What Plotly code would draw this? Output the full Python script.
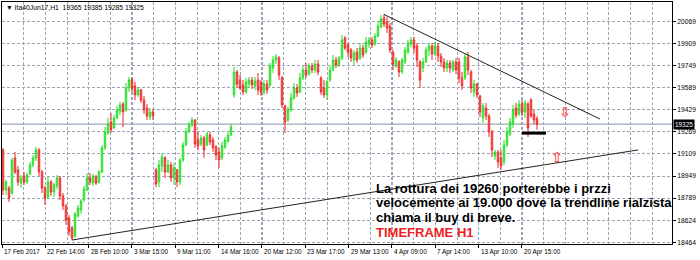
import plotly.graph_objects as go

# ---- data (H1 candles, bar index order) ----
opens = [19138,18848,18862,18826,19080,18993,18898,18949,18906,18964,19029,19080,19138,18978,18862,18797,18906,18833,18877,18935,
         18804,18732,18645,18572,18514,18659,18703,18775,18848,18935,18898,18942,18906,18978,19152,19261,19341,19297,19370,19420,
         19471,19428,19587,19645,19602,19537,19573,19500,19442,19377,19413,18993,18906,19022,19080,18978,19029,18935,18993,18906,
         19065,19174,19268,19319,19355,19210,19181,19225,19174,19246,19210,19159,19123,19080,19159,19203,19246,19537,19703,19645,
         19609,19558,19616,19645,19602,19645,19631,19558,19616,19609,19732,19790,19805,19660,19457,19355,19428,19515,19587,19558,
         19660,19718,19689,19747,19718,19761,19660,19587,19537,19645,19718,19790,19754,19805,19950,19899,19862,19790,19848,19805,
         19877,19848,19906,19935,19906,19964,20029,20095,20066,20037,19848,19747,19776,19703,19776,19848,19906,19935,19892,19776,
         19732,19776,19862,19892,19834,19892,19819,19776,19732,19768,19718,19776,19776,19660,19660,19812,19703,19558,19616,19529,
         19370,19442,19384,19268,19094,19123,19080,19051,19174,19254,19326,19442,19399,19471,19413,19471,19500,19399,19365]
highs = [19152,18920,18877,19080,19123,19022,18956,18978,18971,19051,19101,19159,19152,18993,18877,18942,18920,18898,18956,18949,
         18826,18746,18666,18587,18688,18739,18782,18877,18971,18971,18964,18956,18993,19174,19304,19370,19406,19391,19457,19486,
         19486,19623,19667,19660,19631,19594,19580,19529,19471,19442,19435,19007,19065,19116,19094,19065,19051,19043,19000,19080,
         19196,19297,19341,19377,19362,19268,19246,19239,19268,19268,19232,19174,19152,19196,19232,19268,19326,19739,19718,19681,
         19645,19660,19667,19667,19667,19696,19645,19645,19645,19768,19819,19834,19819,19674,19464,19449,19551,19623,19616,19696,
         19747,19768,19768,19768,19790,19790,19674,19645,19645,19747,19826,19812,19819,19971,19964,19913,19877,19862,19877,19913,
         19899,19957,19957,19957,19986,20066,20116,20124,20102,20058,19862,19812,19790,19805,19884,19935,19957,19957,19913,19790,
         19805,19884,19913,19913,19921,19913,19841,19805,19790,19790,19790,19805,19805,19703,19841,19848,19718,19645,19623,19537,
         19478,19478,19399,19283,19138,19138,19138,19210,19304,19370,19464,19478,19500,19500,19500,19486,19515,19428,19385]
lows = [18811,18811,18761,18811,18964,18877,18862,18884,18891,18956,19014,19058,18949,18826,18739,18782,18804,18797,18855,18775,
        18703,18594,18514,18485,18500,18645,18674,18761,18840,18884,18877,18884,18891,18971,19138,19246,19261,19290,19362,19391,
        19304,19413,19558,19558,19500,19522,19478,19399,19355,19355,19355,18869,18869,18978,18935,18971,18906,18884,18869,18884,
        19051,19167,19261,19304,19152,19138,19167,19080,19167,19174,19123,19065,19007,19065,19145,19188,19239,19515,19587,19573,
        19537,19544,19587,19580,19573,19537,19529,19537,19544,19594,19696,19761,19645,19442,19261,19341,19413,19500,19522,19551,
        19645,19660,19674,19696,19696,19681,19537,19515,19500,19631,19710,19732,19739,19790,19862,19812,19776,19754,19768,19790,
        19805,19834,19877,19877,19892,19957,20022,20029,19986,19841,19718,19732,19667,19689,19761,19834,19884,19841,19739,19587,
        19703,19768,19819,19790,19819,19776,19739,19703,19703,19696,19703,19689,19623,19573,19645,19681,19551,19522,19515,19377,
        19333,19355,19232,19087,19065,19007,18993,19029,19159,19239,19297,19370,19384,19384,19370,19232,19370,19326,19285]
closes = [18848,18906,18790,19065,18978,18906,18935,18906,18956,19029,19080,19138,18978,18862,18790,18906,18833,18884,18935,18804,
          18732,18630,18543,18500,18674,18717,18768,18855,18935,18906,18949,18898,18978,19152,19268,19326,19283,19370,19428,19464,
          19413,19587,19645,19587,19537,19573,19500,19428,19384,19413,19384,18891,19029,19087,18978,19029,18935,19007,18906,19065,
          19174,19268,19319,19355,19181,19167,19225,19138,19254,19196,19152,19101,19065,19167,19210,19246,19304,19703,19616,19587,
          19558,19631,19645,19609,19638,19573,19558,19616,19573,19747,19790,19812,19681,19464,19341,19428,19515,19587,19551,19660,
          19718,19681,19747,19718,19761,19703,19558,19537,19631,19718,19790,19754,19805,19935,19877,19848,19805,19841,19790,19877,
          19826,19921,19935,19899,19964,20037,20087,20051,20022,19862,19761,19790,19703,19790,19862,19913,19935,19877,19790,19645,
          19776,19862,19892,19834,19892,19819,19776,19732,19768,19732,19776,19718,19660,19602,19812,19718,19587,19616,19537,19413,
          19457,19384,19268,19138,19123,19051,19022,19174,19268,19341,19428,19391,19471,19413,19478,19297,19384,19355,19325]

symbol_label = "Ita40Jun17,H1"
current_price = 19325
support_level = 19260
support_bars = [173, 181]
lower_trend_bars = [23, 211.7]
lower_trend_prices = [18485, 19138]
upper_trend_bars = [127, 199]
upper_trend_prices = [20120, 19362]
arrow_down = (187.3, 19413)
arrow_up = (184.7, 19087)

y_tick_vals = [20069, 19909, 19749, 19589, 19429, 19269, 19109, 18949, 18789, 18624, 18464]
x_tick_labels = ["17 Feb 2017", "22 Feb 14:00", "28 Feb 10:00", "3 Mar 15:00", "9 Mar 11:00", "14 Mar 16:00",
                 "20 Mar 12:00", "23 Mar 17:00", "29 Mar 13:00", "4 Apr 09:00", "7 Apr 14:00", "13 Apr 10:00",
                 "20 Apr 15:00"]
note_lines = ["La rottura dei 19260 porterebbe i przzi",
              "velocemente ai 19.000 dove la trendline rialzista",
              "chiama il buy di breve."]
note_red = "TIMEFRAME H1"

# ---- geometry (pixels) ----
W, H = 700, 260
ML, MR, MT, MB = 2, 28, 2, 16
PW, PH = W - ML - MR, H - MT - MB
DX = 3.0           # px per bar
X0 = 3.0           # px of bar 0

def bar_of_px(px):
    return (px - X0) / DX

def paper_y(py):
    return (H - MB - py) / PH

xrange_ = [bar_of_px(ML), bar_of_px(ML + PW)]
yrange_ = [18456, 20210.5]

bars = list(range(len(opens)))
major_x = [bar_of_px(ML + 43.33 * k) for k in range(len(x_tick_labels))]
minor_x = [bar_of_px(ML + 21.667 * k) for k in range(32)]

GRID = "#9aa4b4"
FONT = "Liberation Sans, Arial, sans-serif"
SMALL = 6.4

fig = go.Figure()
fig.add_trace(go.Candlestick(
    x=bars, open=opens, high=highs, low=lows, close=closes,
    increasing=dict(line=dict(color="#22dd22", width=1), fillcolor="#9af49a"),
    decreasing=dict(line=dict(color="#ee2424", width=1), fillcolor="#f7a3a3"),
    whiskerwidth=0, showlegend=False, hoverinfo="skip"))

fig.add_trace(go.Scatter(x=lower_trend_bars, y=lower_trend_prices, mode="lines",
                         line=dict(color="#222222", width=1), showlegend=False, hoverinfo="skip"))
fig.add_trace(go.Scatter(x=upper_trend_bars, y=upper_trend_prices, mode="lines",
                         line=dict(color="#222222", width=1), showlegend=False, hoverinfo="skip"))
fig.add_trace(go.Scatter(x=support_bars, y=[support_level, support_level], mode="lines",
                         line=dict(color="#000000", width=3), showlegend=False, hoverinfo="skip"))

fig.add_shape(type="line", xref="paper", x0=0, x1=1, yref="y", y0=current_price, y1=current_price,
              line=dict(color="#8797a8", width=1), layer="below")

ann = []
for xv, lab in zip(major_x, x_tick_labels):
    ann.append(dict(x=xv, xref="x", y=paper_y(251.5), yref="paper", text=lab, showarrow=False,
                    xanchor="left", yanchor="middle", xshift=0, font=dict(size=SMALL, color="#000", family=FONT)))
ann.append(dict(x=1, xref="paper", y=current_price, yref="y", text=str(current_price), showarrow=False,
                xanchor="left", yanchor="middle", xshift=1, bgcolor="#000000", borderpad=1,
                font=dict(size=SMALL, color="#ffffff", family=FONT)))
header = "▼ " + symbol_label + "\u00a0\u00a0" + " ".join(str(v) for v in (opens[-1], highs[-1], lows[-1], closes[-1]))
ann.append(dict(x=(4 - ML) / PW, xref="paper", y=paper_y(7.5), yref="paper", text=header, showarrow=False,
                xanchor="left", yanchor="middle", font=dict(size=6.8, color="#000", family=FONT)))
for k, line in enumerate(note_lines):
    ann.append(dict(x=(374 - ML) / PW, xref="paper", y=paper_y(188 + 14.8 * k), yref="paper",
                    text="<b>" + line + "</b>", showarrow=False, xanchor="left", yanchor="middle",
                    font=dict(size=13, color="#000000", family=FONT)))
ann.append(dict(x=(374 - ML) / PW, xref="paper", y=paper_y(188 + 14.8 * 3), yref="paper",
                text="<b>" + note_red + "</b>", showarrow=False, xanchor="left", yanchor="middle",
                font=dict(size=13, color="#ee1c25", family=FONT)))
ann.append(dict(x=arrow_down[0], y=arrow_down[1], xref="x", yref="y", text="<b>⇩</b>", showarrow=False,
                font=dict(size=14, color="#ff4a4a", family="DejaVu Sans")))
ann.append(dict(x=arrow_up[0], y=arrow_up[1], xref="x", yref="y", text="<b>⇧</b>", showarrow=False,
                font=dict(size=14, color="#ff4a4a", family="DejaVu Sans")))

fig.update_layout(
    width=W, height=H, margin=dict(l=ML, r=MR, t=MT, b=MB),
    paper_bgcolor="#ffffff", plot_bgcolor="#ffffff",
    showlegend=False, annotations=ann,
    xaxis=dict(range=xrange_, rangeslider=dict(visible=False), tickmode="array", tickvals=major_x,
               showticklabels=False, ticks="outside", ticklen=3, tickcolor="#000",
               showgrid=True, gridcolor=GRID, griddash="3px,2px", gridwidth=1,
               minor=dict(tickvals=minor_x, showgrid=True, gridcolor=GRID, griddash="3px,2px", ticks=""),
               showline=True, linecolor="#000", linewidth=1, mirror=True, zeroline=False, fixedrange=True),
    yaxis=dict(range=yrange_, side="right", tickmode="array", tickvals=y_tick_vals,
               ticktext=[str(v) for v in y_tick_vals], ticks="outside", ticklen=3, tickcolor="#000",
               tickfont=dict(size=6.7, color="#000", family=FONT),
               showgrid=True, gridcolor=GRID, griddash="3px,2px", gridwidth=1,
               showline=True, linecolor="#000", linewidth=1, mirror=True, zeroline=False, fixedrange=True),
)
fig.write_html("out.html")
